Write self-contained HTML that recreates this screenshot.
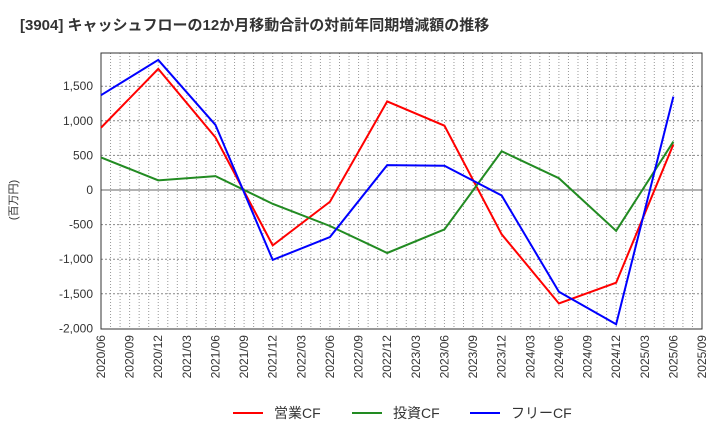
<!DOCTYPE html>
<html><head><meta charset="utf-8"><style>
body{margin:0;background:#fff;font-family:"Liberation Sans","Noto Sans CJK JP",sans-serif}
svg{display:block}
text{font-family:"Liberation Sans","Noto Sans CJK JP",sans-serif}
</style></head><body>
<svg id="c" width="720" height="440" xmlns="http://www.w3.org/2000/svg">
<text x="20" y="30" font-size="15" font-weight="bold" fill="#333">[3904]  キャッシュフローの12か月移動合計の対前年同期増減額の推移</text>
<text transform="translate(17,200) rotate(-90)" text-anchor="middle" font-size="11" fill="#333">(百万円)</text>
<g id="grid"></g><g id="axes"></g><g id="series"></g>
<g>
<line x1="233" y1="413" x2="263" y2="413" stroke="#f00" stroke-width="2"/>
<text x="274" y="418" font-size="14" fill="#333">営業CF</text>
<line x1="352" y1="413" x2="382" y2="413" stroke="#228b22" stroke-width="2"/>
<text x="393" y="418" font-size="14" fill="#333">投資CF</text>
<line x1="470" y1="413" x2="500" y2="413" stroke="#00f" stroke-width="2"/>
<text x="511" y="418" font-size="14" fill="#333">フリーCF</text>
</g>
</svg>
<script>
const xLabels=["2020/06","2020/09","2020/12","2021/03","2021/06","2021/09","2021/12","2022/03","2022/06","2022/09","2022/12","2023/03","2023/06","2023/09","2023/12","2024/03","2024/06","2024/09","2024/12","2025/03","2025/06","2025/09"];
const yTicks=[1500,1000,500,0,-500,-1000,-1500,-2000];
const pointMonths=[0,6,12,18,24,30,36,42,48,54,60];
const opCF=[900,1750,760,-800,-170,1280,930,-640,-1640,-1340,660];
const invCF=[470,140,200,-200,-520,-910,-570,560,170,-590,700];
const freeCF=[1370,1880,940,-1010,-680,360,350,-80,-1470,-1940,1350];
const L=101,R=702,T=53,B=329;
const x=m=>L+(R-L)*m/63;
const y=v=>190-v*34.6/500;
const NS="http://www.w3.org/2000/svg";
function mk(p,tag,attrs){const e=document.createElementNS(NS,tag);for(const k in attrs)e.setAttribute(k,attrs[k]);p.appendChild(e);return e;}
const grid=document.getElementById('grid'),axes=document.getElementById('axes'),ser=document.getElementById('series');
for(let m=1;m<63;m++){const l=mk(grid,'line',{x1:x(m),x2:x(m),y1:T,y2:B,stroke:'#999','stroke-dasharray':'1,2','stroke-width':1});

}
yTicks.forEach(v=>{if(v>-2000){const l=mk(grid,'line',{x1:L,x2:R,y1:y(v),y2:y(v),stroke:v===0?'#666':'#888','stroke-dasharray':v===0?'':'2,2','stroke-width':1});

}
const t=mk(axes,'text',{x:93,y:y(v)+4,'text-anchor':'end','font-size':12,fill:'#333'});t.textContent=v.toLocaleString('en-US');

});
const fr=mk(axes,'rect',{x:L,y:T,width:R-L,height:B-T,fill:'none',stroke:'#333','stroke-width':1});


xLabels.forEach((s,i)=>{const xx=x(i*3);const t=mk(axes,'text',{transform:`translate(${xx+4},335) rotate(-90)`,'text-anchor':'end','font-size':12,fill:'#333'});t.textContent=s;

});
[[opCF,'#f00','operating-cf-line'],[invCF,'#228b22','investing-cf-line'],[freeCF,'#00f','free-cf-line']].forEach(([d,c,n])=>{
const p=mk(ser,'polyline',{points:d.map((v,i)=>x(pointMonths[i])+','+y(v)).join(' '),fill:'none',stroke:c,'stroke-width':2});

});
</script>
</body></html>
